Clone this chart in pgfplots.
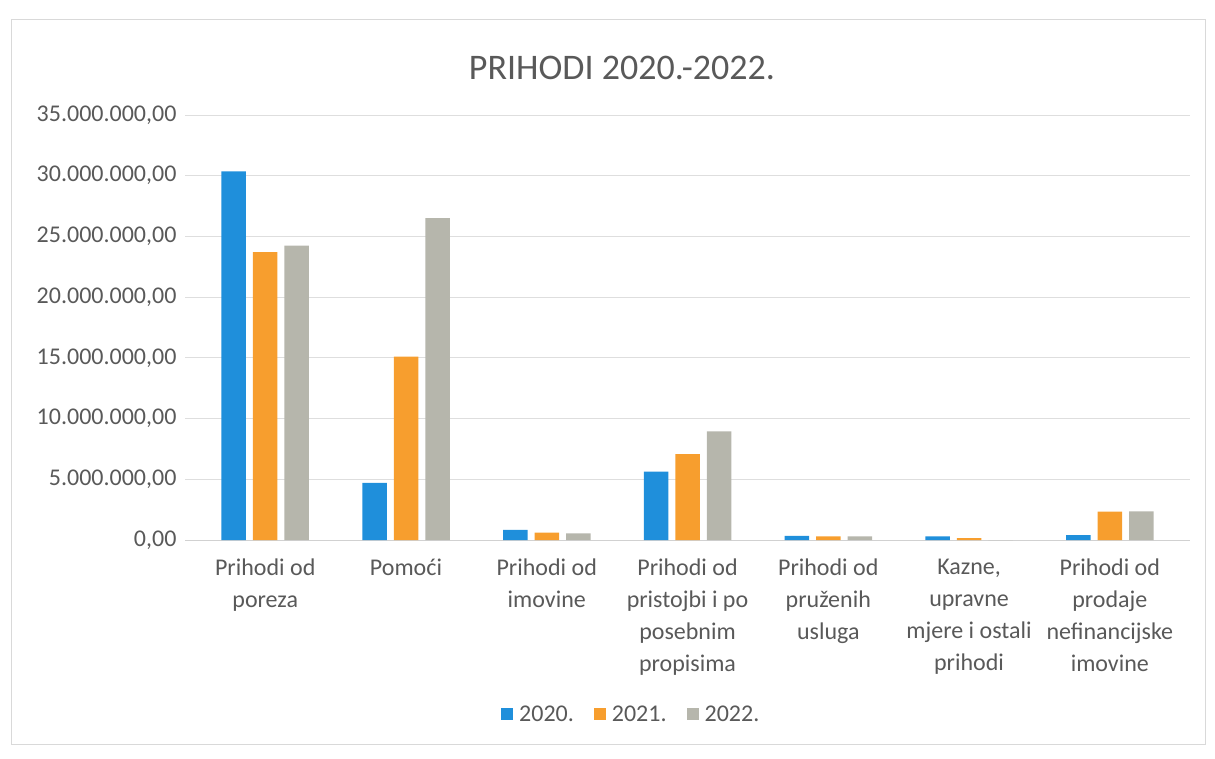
\documentclass[border=0pt]{standalone}
\usepackage{pgfplots}
\pgfplotsset{compat=1.18}
\usepackage{fontspec}
\setmainfont{Carlito}
\definecolor{c20}{HTML}{1F8FDB}
\definecolor{c21}{HTML}{F79E2E}
\definecolor{c22}{HTML}{B6B6AC}
\definecolor{txt}{HTML}{595959}
\begin{document}
\begin{tikzpicture}
\path (0pt,0pt) rectangle (1215pt,758pt);
\draw[black!15, line width=1pt] (11pt,14pt) rectangle (1205pt,738pt);
\node[font=\fontsize{36}{40}\selectfont, text=txt] at (622pt,690pt) {PRIHODI 2020.-2022.};
\begin{axis}[
  at={(185pt,218pt)}, anchor=south west,
  scale only axis, width=1005pt, height=425pt,
  ybar=7pt, bar width=24.5pt,
  xmin=-0.57, xmax=6.57, ymin=0, ymax=35,
  xtick={0,1,2,3,4,5,6},
  xticklabels={{Prihodi od\\poreza},{Pomoći},{Prihodi od\\imovine},{Prihodi od\\pristojbi i po\\posebnim\\propisima},{Prihodi od\\pruženih\\usluga},{Kazne,\\upravne\\mjere i ostali\\prihodi},{Prihodi od\\prodaje\\nefinancijske\\imovine}},
  xticklabel style={align=center, font=\fontsize{24}{32}\selectfont, text=txt, yshift=-11pt},
  ytick={0,5,10,15,20,25,30,35},
  yticklabels={{0,00},{5.000.000,00},{10.000.000,00},{15.000.000,00},{20.000.000,00},{25.000.000,00},{30.000.000,00},{35.000.000,00}},
  yticklabel style={font=\fontsize{24}{28}\selectfont, text=txt, xshift=-5pt},
  ymajorgrids, grid style={black!13, line width=0.8pt},
  axis line style={draw=none}, tick style={draw=none},
  legend columns=3,
  legend style={at={(0.444,-0.41)}, anchor=center, draw=none, font=\fontsize{24}{28}\selectfont, text=txt,
    /tikz/every odd column/.append style={column sep=4pt},
    /tikz/every even column/.append style={column sep=18pt}},
  legend image code/.code={\fill[#1] (0pt,-6pt) rectangle (12pt,6pt);},
]
\draw[black!18, line width=1pt] (axis cs:-0.57,0) -- (axis cs:6.57,0);
\addplot[fill=c20, draw=none] coordinates {(0,30.36) (1,4.7) (2,0.83) (3,5.63) (4,0.35) (5,0.3) (6,0.4)};
\addplot[fill=c21, draw=none] coordinates {(0,23.7) (1,15.1) (2,0.6) (3,7.08) (4,0.3) (5,0.15) (6,2.33)};
\addplot[fill=c22, draw=none] coordinates {(0,24.25) (1,26.5) (2,0.55) (3,8.94) (4,0.3) (5,0) (6,2.36)};
\legend{2020.,2021.,2022.}
\end{axis}
\end{tikzpicture}
\end{document}
